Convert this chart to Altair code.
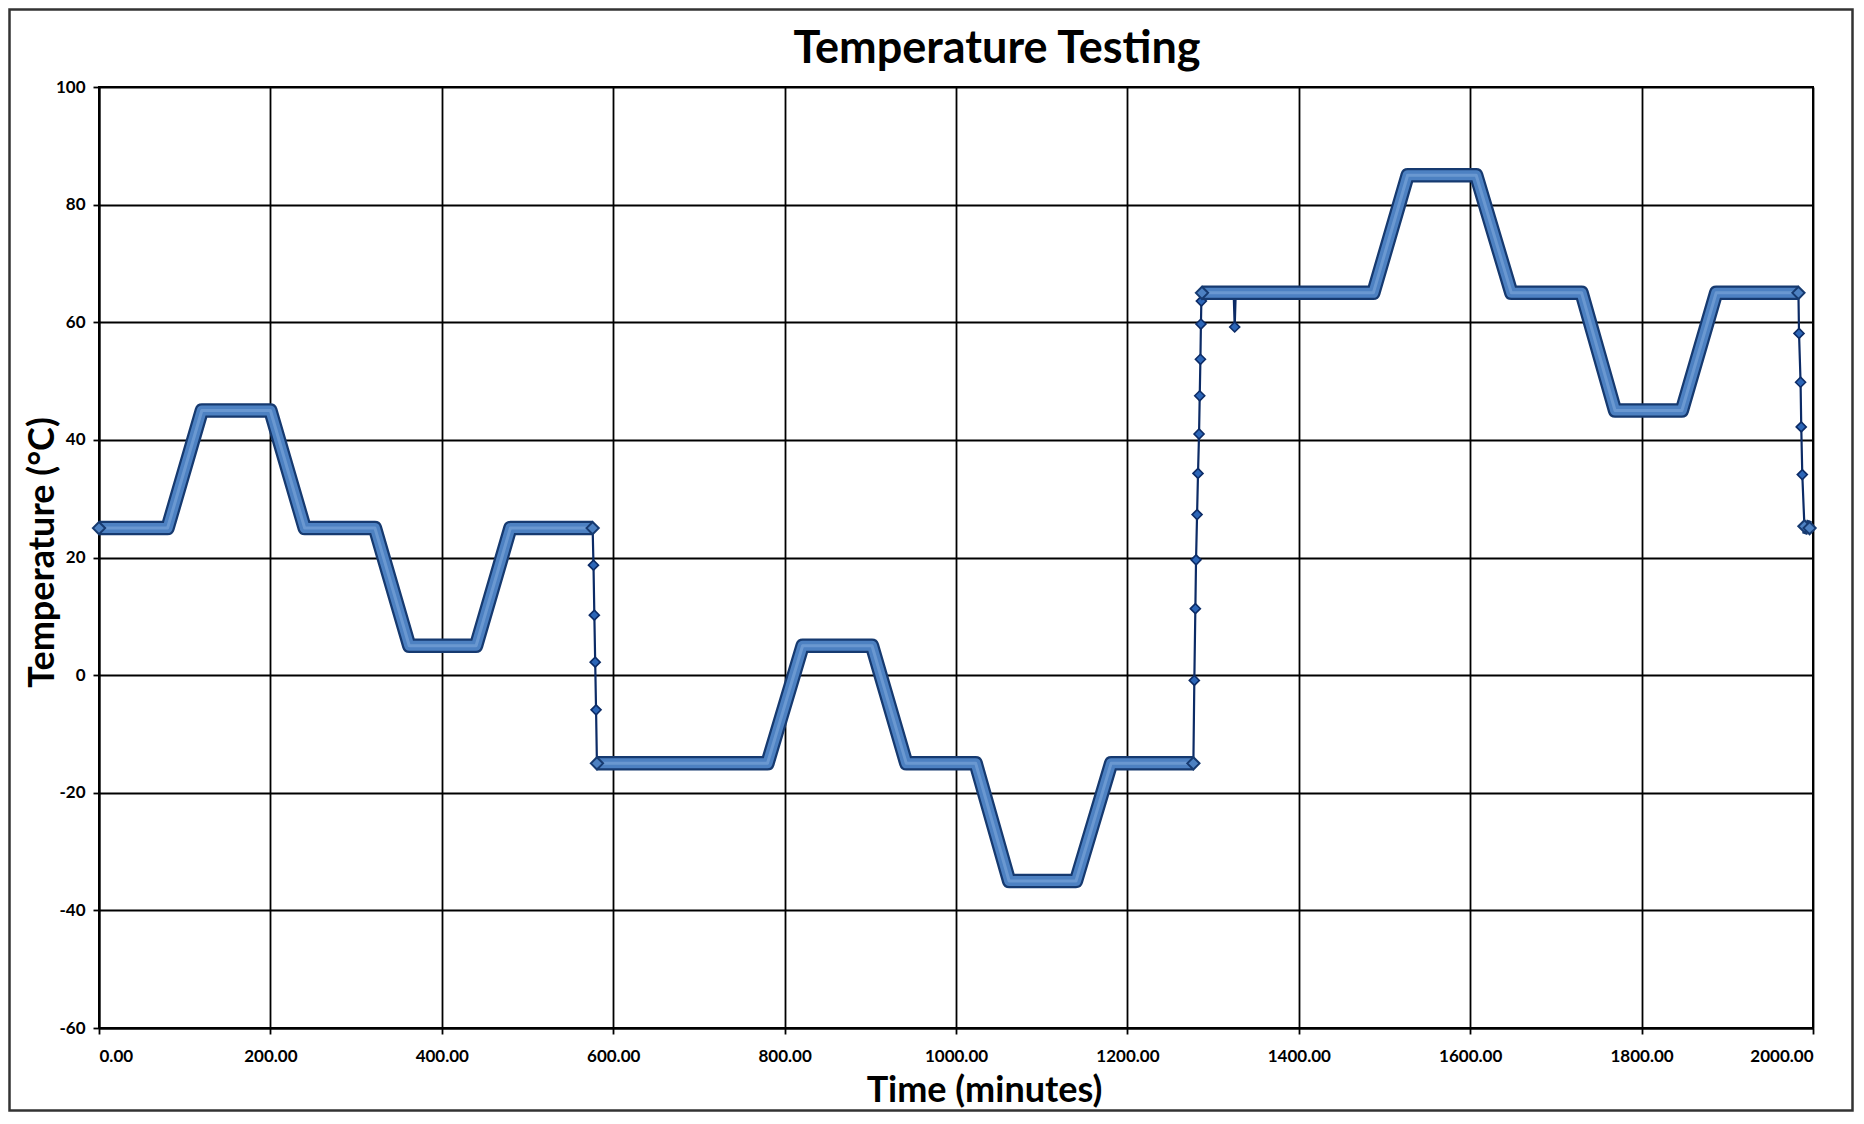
import altair as alt
import pandas as pd

# ---- data ----
# "band" segments are the densely sampled holds/ramps (drawn as a thick band),
# "step" segments are sparsely sampled fast transitions (thin line + diamond markers)
b1_time = [0, 80, 120, 200, 240, 322, 362, 440, 480, 576]
b1_temp = [25, 25, 45, 45, 25, 25, 5, 5, 25, 25]

s1_time = [576, 577, 578, 579, 580, 581]
s1_temp = [25, 18.7, 10.2, 2.2, -5.9, -15]

b2_time = [581, 780, 821, 902, 942, 1023, 1062, 1140, 1181, 1277]
b2_temp = [-15, -15, 5, 5, -15, -15, -35, -35, -15, -15]

s2_time = [1277, 1278.1, 1279.3, 1280.1, 1281.3, 1282.4, 1283.6, 1284.4, 1285.2, 1285.8, 1286.3, 1287]
s2_temp = [-15, -0.9, 11.3, 19.6, 27.3, 34.3, 41.0, 47.5, 53.7, 59.7, 63.6, 65]

b3_time = [1287, 1487, 1527, 1607, 1648, 1730, 1769, 1847, 1887, 1983]
b3_temp = [65, 65, 85, 85, 65, 65, 45, 45, 65, 65]

s3_time = [1324, 1325.2, 1326.4]
s3_temp = [65, 59.2, 65]

s4_time = [1983, 1983.7, 1985.5, 1986.3, 1987.5, 1990]
s4_temp = [65, 58.1, 49.8, 42.2, 34.1, 25.3]

b4_time = [1990, 1996]
b4_temp = [25.3, 25]

x_ticks = [0, 200, 400, 600, 800, 1000, 1200, 1400, 1600, 1800, 2000]
y_ticks = [-60, -40, -20, 0, 20, 40, 60, 80, 100]

chart_title = "Temperature Testing"
x_title = "Time (minutes)"
y_title = "Temperature (°C)"

segments = [
    ("b1", "band", b1_time, b1_temp),
    ("s1", "step", s1_time, s1_temp),
    ("b2", "band", b2_time, b2_temp),
    ("s2", "step", s2_time, s2_temp),
    ("b3", "band", b3_time, b3_temp),
    ("s3", "step", s3_time, s3_temp),
    ("s4", "step", s4_time, s4_temp),
    ("b4", "band", b4_time, b4_temp),
]

rows = []
for seg, kind, ts, vs in segments:
    for i, (t, v) in enumerate(zip(ts, vs)):
        rows.append({"time": t, "temp": v, "seg": seg, "kind": kind, "order": i,
                     "end": i == 0 or i == len(ts) - 1})
df = pd.DataFrame(rows)

# ---- layout ----
PW, PH = 1714, 941
PAD_L, PAD_T, PAD_R, PAD_B = 91, 79, 41, 84

LINE_DARK = "#0c2b66"
BAND_DARK = "#163a70"
BAND_MID = "#4d81c2"
BAND_LIGHT = "#7fa9db"

x_enc = alt.X("time:Q", scale=alt.Scale(domain=[0, 2000], nice=False, zero=False),
              axis=alt.Axis(values=x_ticks, format=".2f", title=x_title,
                            titleX=885, titleY=73, titleBaseline="alphabetic",
                            titleFontSize=36, labelPadding=14))
y_enc = alt.Y("temp:Q", scale=alt.Scale(domain=[-60, 100], nice=False, zero=False),
              axis=alt.Axis(values=y_ticks, labelExpr="toString(datum.value)", title=y_title,
                            titleX=-46, titleY=465, titleAngle=-90, titleBaseline="alphabetic",
                            titleAlign="center", titleFontSize=36, labelPadding=8))

base = alt.Chart(df).encode(x=x_enc, y=y_enc, order="order:Q", detail="seg:N")

step_line = base.transform_filter(alt.datum.kind == "step").mark_line(
    color=LINE_DARK, strokeWidth=2.2)
step_pts = base.transform_filter(alt.datum.kind == "step").mark_point(
    shape="diamond", filled=True, size=100, fill="#2c66b8", stroke=LINE_DARK, strokeWidth=1.6, opacity=1)
band_outer = base.transform_filter(alt.datum.kind == "band").mark_line(
    color=BAND_DARK, strokeWidth=14.5, strokeJoin="round", strokeCap="butt")
band_inner = base.transform_filter(alt.datum.kind == "band").mark_line(
    color=BAND_MID, strokeWidth=10, strokeJoin="round", strokeCap="butt")
band_core = base.transform_filter(alt.datum.kind == "band").mark_line(
    color=BAND_LIGHT, strokeWidth=3, strokeJoin="round", strokeCap="butt", opacity=0.6)
band_caps = base.transform_filter((alt.datum.kind == "band") & alt.datum.end).mark_point(
    shape="diamond", filled=True, size=150, fill=BAND_MID, stroke=BAND_DARK, strokeWidth=2, opacity=1)

frame = alt.Chart(alt.Data(values=[{"a": 1}])).mark_rect(
    filled=False, stroke="#333333", strokeWidth=2.5, fill=None
).encode(
    x=alt.value(-PAD_L + 1.5), x2=alt.value(PW + PAD_R - 1.5),
    y=alt.value(-PAD_T + 1.5), y2=alt.value(PH + PAD_B - 1.5),
)

title_text = alt.Chart(alt.Data(values=[{"label": chart_title}])).mark_text(
    font="Lato", fontSize=45, fontWeight="bold", color="black",
    align="center", baseline="alphabetic",
).encode(text="label:N", x=alt.value(898), y=alt.value(-24))

chart = alt.layer(
    frame, title_text, step_line, step_pts, band_outer, band_inner, band_core, band_caps
).properties(
    width=PW, height=PH,
    autosize=alt.AutoSizeParams(type="none"),
    padding={"left": PAD_L, "top": PAD_T, "right": PAD_R, "bottom": PAD_B},
).configure(
    background="white",
).configure_view(
    stroke="black", strokeWidth=2,
).configure_axis(
    domainColor="black", domainWidth=2,
    gridColor="black", gridWidth=1.8, grid=True, gridOpacity=1,
    tickColor="black", tickWidth=1.8, tickSize=6,
    labelFont="Lato", labelFontWeight="bold", labelFontSize=17, labelColor="black",
    titleFont="Lato", titleFontWeight="bold", titleColor="black",
)

chart.save("out.html", embed_options={"renderer": "svg", "actions": False})
